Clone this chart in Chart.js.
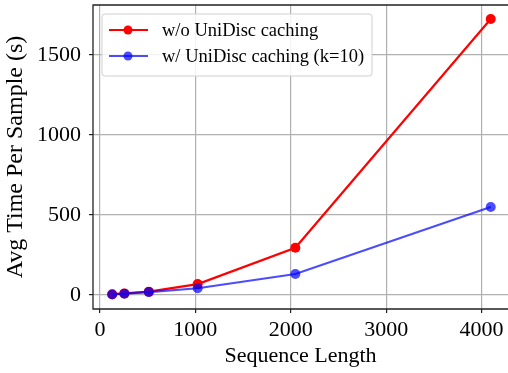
<!DOCTYPE html>
<html>
<head>
<meta charset="utf-8">
<script src="https://cdn.jsdelivr.net/npm/chart.js@4.4.1/dist/chart.umd.min.js"></script>
<style>
  html, body { margin: 0; padding: 0; background: #fff; }
  canvas { display: block; }
</style>
</head>
<body>
<canvas id="timeChart" width="508" height="373"></canvas>
<script>
// data
var seqLengths = [128, 256, 512, 1024, 2048, 4096];
var noCache = [5, 10, 21, 68, 295, 1725];
var withCache = [3, 8, 18, 42, 131, 550];
var xTicks = [0, 1000, 2000, 3000, 4000];
var yTicks = [0, 500, 1000, 1500];
var seriesLabels = ["w/o UniDisc caching", "w/ UniDisc caching (k=10)"];

var FONT = "'Liberation Serif', 'DejaVu Serif', serif";
var RED = "#ff0000";
var BLUE = "rgba(0, 0, 255, 0.7)";

function toPoints(xs, ys) {
  return xs.map(function (x, i) {
    return { x: x, y: ys[i] };
  });
}

function noPad(scale) {
  scale.paddingTop = 0;
  scale.paddingBottom = 0;
  scale.paddingLeft = 0;
  scale.paddingRight = 0;
}

// box around plot area (right spine is cropped in the figure) + legend inside
var framePlugin = {
  id: "frame",
  afterDraw: function (chart) {
    var ctx = chart.ctx;
    var a = chart.chartArea;
    ctx.save();
    ctx.strokeStyle = "#222";
    ctx.lineWidth = 1.3;
    ctx.beginPath();
    ctx.moveTo(a.right + 2, a.top);
    ctx.lineTo(a.left, a.top);
    ctx.lineTo(a.left, a.bottom);
    ctx.lineTo(a.right + 2, a.bottom);
    ctx.stroke();

    // legend box
    var lx = a.left + 9, ly = a.top + 9, lw = 270, lh = 62;
    ctx.fillStyle = "rgba(255,255,255,0.85)";
    ctx.strokeStyle = "#d0d0d0";
    ctx.lineWidth = 1;
    ctx.beginPath();
    ctx.roundRect(lx, ly, lw, lh, 3);
    ctx.fill();
    ctx.stroke();

    var colors = [RED, BLUE];
    ctx.font = "18.5px " + FONT;
    ctx.textBaseline = "middle";
    for (var i = 0; i < seriesLabels.length; i++) {
      var cy = ly + 16 + i * 26;
      ctx.strokeStyle = colors[i];
      ctx.fillStyle = colors[i];
      ctx.lineWidth = 2.2;
      ctx.beginPath();
      ctx.moveTo(lx + 7, cy);
      ctx.lineTo(lx + 46, cy);
      ctx.stroke();
      ctx.beginPath();
      ctx.arc(lx + 26, cy, 4.5, 0, Math.PI * 2);
      ctx.fill();
      ctx.fillStyle = "#000";
      ctx.fillText(seriesLabels[i], lx + 60, cy + 1);
    }
    ctx.restore();
  },
};

var ctx = document.getElementById("timeChart").getContext("2d");
new Chart(ctx, {
  type: "line",
  data: {
    datasets: [
      {
        label: seriesLabels[0],
        data: toPoints(seqLengths, noCache),
        borderColor: RED,
        backgroundColor: RED,
        borderWidth: 2.2,
        pointRadius: 5,
        pointBorderWidth: 0,
        tension: 0,
        order: 2,
      },
      {
        label: seriesLabels[1],
        data: toPoints(seqLengths, withCache),
        borderColor: BLUE,
        backgroundColor: BLUE,
        borderWidth: 2.2,
        pointRadius: 5,
        pointBorderWidth: 0,
        tension: 0,
        order: 1,
      },
    ],
  },
  options: {
    responsive: false,
    animation: false,
    devicePixelRatio: 1,
    layout: {
      autoPadding: false,
      padding: { top: 5, right: 0, left: 0, bottom: 0 },
    },
    plugins: {
      legend: { display: false },
      tooltip: { enabled: false },
    },
    scales: {
      x: {
        type: "linear",
        min: -73,
        max: 4277,
        afterBuildTicks: function (scale) {
          scale.ticks = xTicks.map(function (v) { return { value: v }; });
        },
        afterFit: function (scale) {
          scale.height = 64;
          noPad(scale);
        },
        grid: {
          color: "#b0b0b0",
          lineWidth: 1.2,
          tickColor: "#222",
          tickLength: 4,
        },
        border: { display: false },
        ticks: {
          color: "#000",
          padding: 4,
          maxRotation: 0,
          font: { family: FONT, size: 22 },
          callback: function (v) { return String(v); },
        },
        title: {
          display: true,
          text: "Sequence Length",
          color: "#000",
          padding: { top: 0, bottom: 4 },
          font: { family: FONT, size: 22 },
        },
      },
      y: {
        type: "linear",
        min: -87.5,
        max: 1812.5,
        afterBuildTicks: function (scale) {
          scale.ticks = yTicks.map(function (v) { return { value: v }; });
        },
        afterFit: function (scale) {
          scale.width = 93;
          noPad(scale);
        },
        grid: {
          color: "#b0b0b0",
          lineWidth: 1.2,
          tickColor: "#222",
          tickLength: 4,
        },
        border: { display: false },
        ticks: {
          color: "#000",
          padding: 8,
          font: { family: FONT, size: 22 },
          callback: function (v) { return String(v); },
        },
        title: {
          display: true,
          text: "Avg Time Per Sample (s)",
          color: "#000",
          padding: { top: 1, bottom: 0 },
          font: { family: FONT, size: 24 },
        },
      },
    },
  },
  plugins: [framePlugin],
});
</script>
</body>
</html>
